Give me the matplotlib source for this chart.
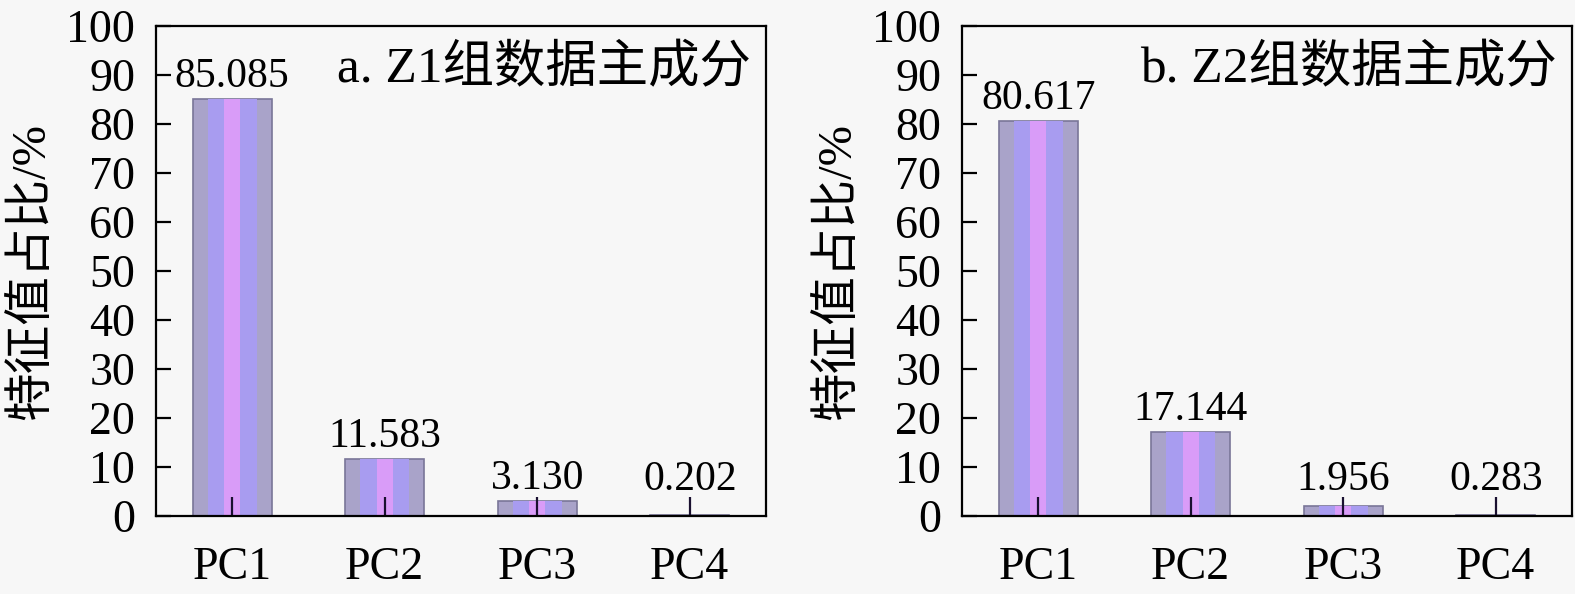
import matplotlib
matplotlib.use("Agg")
import matplotlib.pyplot as plt
import numpy as np

categories = ["PC1", "PC2", "PC3", "PC4"]
values_a = [85.085, 11.583, 3.130, 0.202]
values_b = [80.617, 17.144, 1.956, 0.283]
labels_a = ["85.085", "11.583", "3.130", "0.202"]
labels_b = ["80.617", "17.144", "1.956", "0.283"]
titles = ["a. Z1组数据主成分", "b. Z2组数据主成分"]
ylabel = "特征值占比/%"
yticks = [0, 10, 20, 30, 40, 50, 60, 70, 80, 90, 100]

FAM = ["Liberation Serif", "Noto Sans CJK SC", "DejaVu Sans"]
plt.rcParams["font.family"] = FAM
plt.rcParams["axes.unicode_minus"] = False

BG = "#f7f7f7"
fig = plt.figure(figsize=(15.75, 5.94), dpi=100, facecolor=BG)

boxes = [(156, 766), (962, 1572)]
W, H = 1575, 594
top_px, bot_px = 26, 516

for i, (vals, labs, title) in enumerate(zip([values_a, values_b], [labels_a, labels_b], titles)):
    l, r = boxes[i]
    ax = fig.add_axes([l / W, 1 - bot_px / H, (r - l) / W, (bot_px - top_px) / H])
    ax.set_facecolor(BG)
    ax.set_axisbelow(False)
    x = np.arange(len(categories))
    ax.bar(x, vals, width=0.52, color="#a9a3c9", edgecolor="#7a7698", linewidth=1.2, zorder=1.0)
    ax.bar(x, vals, width=0.32, color="#a89cf0", linewidth=0, zorder=1.1)
    ax.bar(x, vals, width=0.105, color="#d99cf8", linewidth=0, zorder=1.2)
    ax.set_xlim(-0.5, 3.5)
    ax.set_ylim(0, 100)
    ax.set_yticks(yticks)
    ax.set_xticks(x)
    ax.set_xticklabels(categories)
    for s in ax.spines.values():
        s.set_linewidth(1.6)
        s.set_color("black")
        s.set_zorder(6)
    ax.tick_params(axis="y", direction="in", length=11, width=1.6, labelsize=33, pad=15)
    ax.tick_params(axis="x", direction="in", length=14, width=1.6, labelsize=33, pad=22,
                   color="#1a1030")
    ax.tick_params(axis="x", which="both", top=False)
    ax.tick_params(axis="y", which="both", right=False)
    for xi, v, t in zip(x, vals, labs):
        ax.annotate(t, (xi, max(v, 3.0)), xytext=(0, 2), textcoords="offset points",
                    ha="center", va="bottom", fontsize=30, zorder=7)
    ax.text(0.975, 0.96, title, transform=ax.transAxes, ha="right", va="top",
            fontsize=37, zorder=7)
    ax.set_ylabel(ylabel, fontsize=35, labelpad=8)

fig.savefig("out.png", dpi=100, facecolor=BG)
